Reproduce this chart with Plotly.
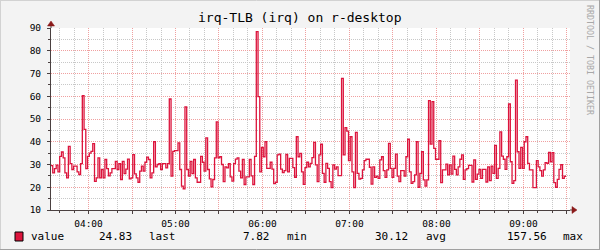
import plotly.graph_objects as go
from datetime import datetime, timedelta

# ---------------- data ----------------
title_text = "irq-TLB (irq) on r-desktop"
start_time = "2024-01-01 03:34:08"
step_seconds = 72
values = [
    29.5, 26.3, 28.2, 29.7, 26.8, 33.6, 35.5, 32.9, 26.3, 24.1,
    38.0, 30.4, 27.8, 29.3, 29.3, 26.8, 25.6, 30.4, 60.3, 45.4,
    28.2, 33.6, 35.0, 35.8, 39.2, 22.6, 24.1, 32.9, 24.1, 27.8,
    24.1, 32.2, 28.2, 25.0, 26.3, 28.2, 28.2, 31.4, 27.8, 30.4,
    23.4, 31.4, 26.0, 28.0, 32.4, 23.7, 24.1, 34.3, 25.9, 24.1,
    22.2, 27.1, 29.3, 27.1, 31.0, 33.2, 32.2, 24.1, 26.3,
    40.0, 29.0, 30.0, 30.4, 27.8, 30.4, 30.4, 28.5, 30.4, 58.8,
    24.9, 35.8, 36.1, 36.1, 39.5, 27.8, 20.5, 19.3, 55.3, 27.8,
    24.9, 31.4, 26.0, 32.2, 24.1, 22.2, 22.2, 33.6, 31.0, 27.1,
    41.7, 27.8, 23.7, 20.2, 23.4, 32.9, 48.7, 32.9, 33.4, 30.0,
    22.5, 29.0, 28.5, 30.4, 24.6, 22.7, 30.4, 32.4, 32.9, 27.1,
    24.1, 32.2, 21.2, 24.6, 24.6, 32.2, 25.0, 21.2, 33.6,
    88.4, 59.8, 26.8, 37.5, 33.4, 40.0, 28.3, 28.3, 31.0, 28.0,
    21.6, 22.2, 34.2, 34.6, 28.0, 26.4, 27.3, 34.4, 26.8, 32.7,
    32.7, 28.6, 24.4, 42.2, 33.4, 34.9, 26.8, 21.3, 28.6, 31.0,
    29.0, 30.5, 33.0, 39.7, 29.8, 22.5, 34.2, 38.9, 26.1, 22.2,
    30.5, 28.3, 22.5, 19.8, 29.8, 28.0, 29.0, 25.1, 25.1, 67.9,
    34.2, 46.2, 44.7, 31.7, 42.2, 26.8, 19.8, 44.1, 26.1, 23.6,
    23.9, 27.6, 31.7, 32.3, 32.3, 28.8, 21.4, 29.0, 24.3, 24.9,
    23.9, 32.0, 33.4, 27.3, 24.3, 27.6, 39.3, 28.3, 24.3, 28.3,
    34.6, 24.9, 22.5, 27.3, 27.3, 24.9, 33.4, 41.1, 26.8, 21.7,
    22.5, 25.4, 40.0, 20.0, 26.1, 35.6, 23.2, 20.5, 23.2, 58.1,
    39.0, 57.6, 37.1, 32.3, 32.3, 40.5, 22.0, 27.6, 27.6, 30.2,
    25.4, 29.8, 25.8, 33.7, 27.9, 25.4, 29.0, 32.3, 34.2, 23.5,
    27.6, 28.2, 29.6, 29.6, 22.3, 32.0, 23.5, 25.8, 27.9, 23.9,
    27.9, 27.9, 22.3, 29.0, 22.9, 29.3, 26.1, 38.4, 23.9, 28.3,
    44.3, 33.7, 32.3, 27.9, 33.4, 56.6, 31.2, 21.7, 22.9, 67.1,
    35.6, 28.3, 37.5, 28.3, 40.0, 42.2, 30.5, 27.6, 27.6, 19.8,
    19.8, 31.7, 29.0, 27.3, 24.9, 27.6, 30.8, 30.5, 35.3, 31.2,
    35.2, 22.0, 20.0, 23.5, 27.9, 29.9, 23.9, 24.83,
]
x_range = ["2024-01-01 03:34:08", "2024-01-01 09:32:06"]
x_tick_times = ["04:00", "04:30", "05:00", "05:30", "06:00", "06:30",
                "07:00", "07:30", "08:00", "08:30", "09:00", "09:30"]
x_tick_labels = ["04:00", "", "05:00", "", "06:00", "", "07:00", "",
                 "08:00", "", "09:00", ""]
y_range = [10, 90]
series_name = "value"
stat_values = ["24.83", "7.82", "30.12", "157.56"]
stat_names = ["last", "min", "avg", "max"]
watermark = "RRDTOOL / TOBI OETIKER"

# ---------------- build ----------------
t0 = datetime.strptime(start_time, "%Y-%m-%d %H:%M:%S")
times = [t0 + timedelta(seconds=step_seconds * i) for i in range(len(values) + 1)]
ys = values + [values[-1]]

LINE = "#DC143C"
MONO = "DejaVu Sans Mono"

# pixel -> paper helpers (plot area: x 51..570, y 28..210)
L, R, T, B = 51, 570, 28, 210
def px(x):
    return (x - L) / (R - L)
def py(y):
    return (B - y) / (B - T)

fig = go.Figure()
fig.add_trace(go.Scatter(
    x=times, y=ys, mode="lines", line=dict(color=LINE, width=1.3, shape="hv"),
    showlegend=False, hoverinfo="skip"))

MAJ = "#F0A0A0"
MIN = "#C8C8C8"
AX = "#4a4040"
DASH = "1px,1px"

fig.update_layout(
    width=600, height=250, autosize=False,
    margin=dict(l=L, r=600 - R, t=T, b=250 - B, pad=0),
    paper_bgcolor="#F3F3F3", plot_bgcolor="#FFFFFF",
    showlegend=False,
    xaxis=dict(
        type="date", range=x_range,
        tickmode="array",
        tickvals=["2024-01-01 " + t for t in x_tick_times],
        ticktext=x_tick_labels,
        showgrid=True, gridcolor=MAJ, griddash=DASH, gridwidth=1,
        ticks="outside", ticklen=3, tickcolor=AX, tickwidth=1,
        minor=dict(tickmode="linear", tick0="2024-01-01 04:00", dtick=600000,
                   showgrid=True, gridcolor=MIN, griddash=DASH, gridwidth=1,
                   ticks="outside", ticklen=2, tickcolor=AX),
        showline=True, linecolor=AX, linewidth=1, zeroline=False,
        tickfont=dict(family=MONO, size=9.5, color="#000"),
        ticklabelstandoff=2,
        fixedrange=True,
    ),
    yaxis=dict(
        range=y_range, tickmode="linear", tick0=10, dtick=10,
        showgrid=True, gridcolor=MAJ, griddash=DASH, gridwidth=1,
        ticks="outside", ticklen=3, tickcolor=AX, tickwidth=1,
        minor=dict(dtick=5, showgrid=True, gridcolor=MIN, griddash=DASH,
                   gridwidth=1, ticks="outside", ticklen=2, tickcolor=AX),
        showline=True, linecolor=AX, linewidth=1, zeroline=False,
        tickfont=dict(family=MONO, size=9.5, color="#000"),
        ticklabelstandoff=4,
        fixedrange=True,
    ),
)

shapes = []
# image border (3D-style frame)
shapes += [
    dict(type="line", xref="paper", yref="paper", x0=px(0), x1=px(600), y0=py(0.5), y1=py(0.5),
         line=dict(color="#D2D2D2", width=1)),
    dict(type="line", xref="paper", yref="paper", x0=px(0.5), x1=px(0.5), y0=py(0), y1=py(250),
         line=dict(color="#D2D2D2", width=1)),
    dict(type="line", xref="paper", yref="paper", x0=px(0), x1=px(600), y0=py(249.5), y1=py(249.5),
         line=dict(color="#A0A0A0", width=1)),
    dict(type="line", xref="paper", yref="paper", x0=px(599.5), x1=px(599.5), y0=py(0), y1=py(250),
         line=dict(color="#A0A0A0", width=1)),
]
# axis extensions and arrows
shapes += [
    dict(type="line", xref="paper", yref="paper", x0=px(570), x1=px(573), y0=py(210), y1=py(210),
         line=dict(color=AX, width=1)),
    dict(type="path", xref="paper", yref="paper",
         path=f"M {px(572)},{py(206.5)} L {px(577)},{py(210)} L {px(572)},{py(213.5)} Z",
         fillcolor="#8B1A1A", line=dict(color="#8B1A1A", width=0.5)),
    dict(type="line", xref="paper", yref="paper", x0=px(51), x1=px(51), y0=py(28), y1=py(25),
         line=dict(color=AX, width=1)),
    dict(type="path", xref="paper", yref="paper",
         path=f"M {px(47.5)},{py(26)} L {px(51)},{py(21)} L {px(54.5)},{py(26)} Z",
         fillcolor="#8B1A1A", line=dict(color="#8B1A1A", width=0.5)),
]
# legend colour box
shapes.append(dict(type="rect", xref="paper", yref="paper",
                   x0=px(15), x1=px(23), y0=py(241), y1=py(232),
                   fillcolor=LINE, line=dict(color="#000", width=1)))
fig.update_layout(shapes=shapes)

ann = []
ann.append(dict(text=title_text, x=px(300), y=py(18), xref="paper", yref="paper",
                xanchor="center", yanchor="middle", showarrow=False,
                font=dict(family=MONO, size=13, color="#000")))
ann.append(dict(text=watermark, x=px(590), y=py(60), xref="paper", yref="paper",
                xanchor="center", yanchor="middle", showarrow=False, textangle=90,
                font=dict(family=MONO, size=8.3, color="#A8A8A8")))
leg_y = py(237)
ann.append(dict(text=series_name, x=px(29), y=leg_y, xref="paper", yref="paper",
                xanchor="left", yanchor="middle", showarrow=False,
                font=dict(family=MONO, size=11, color="#000")))
val_right = [134, 272, 410, 549]
name_left = [147, 285, 424, 561]
for v, n, vr, nl in zip(stat_values, stat_names, val_right, name_left):
    ann.append(dict(text=v, x=px(vr), y=leg_y, xref="paper", yref="paper",
                    xanchor="right", yanchor="middle", showarrow=False,
                    font=dict(family=MONO, size=11, color="#000")))
    ann.append(dict(text=n, x=px(nl), y=leg_y, xref="paper", yref="paper",
                    xanchor="left", yanchor="middle", showarrow=False,
                    font=dict(family=MONO, size=11, color="#000")))
fig.update_layout(annotations=ann)

fig.write_html("out.html")
